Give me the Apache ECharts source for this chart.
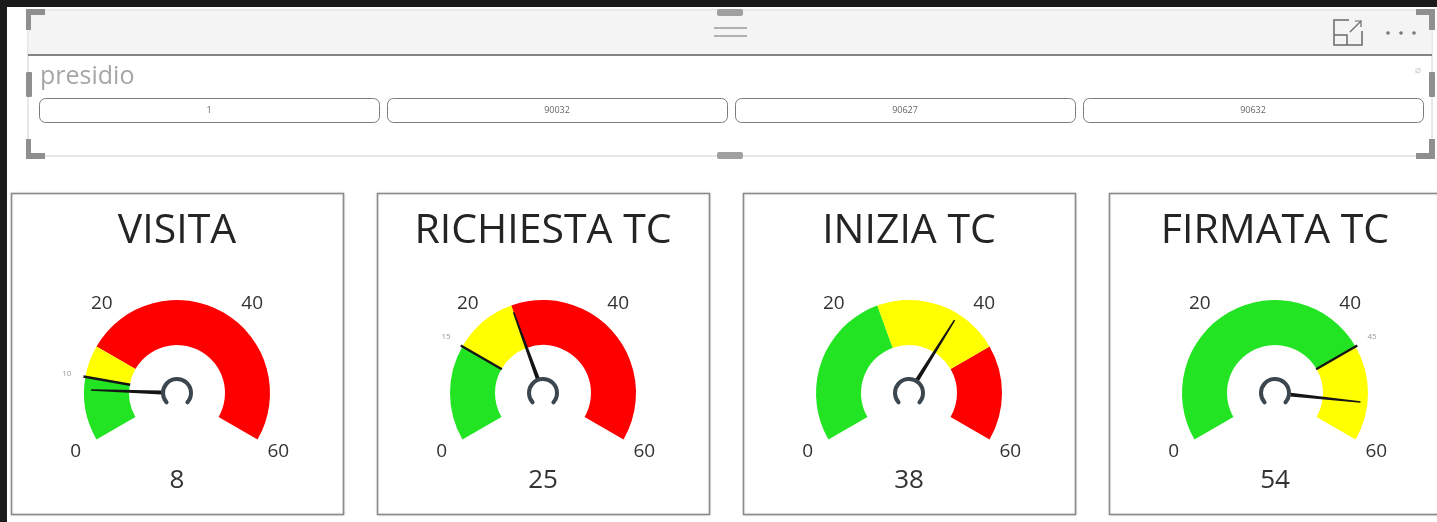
<!DOCTYPE html>
<html>
<head>
<meta charset="utf-8">
<title>presidio</title>
<script src="https://cdn.jsdelivr.net/npm/echarts@6/dist/echarts.min.js"></script>
<style>
  html, body { margin: 0; padding: 0; background: #1b1b1b; }
  #chart { width: 1437px; height: 522px; }
</style>
</head>
<body>
<div id="chart"></div>
<script>
// --- data ---
const gaugeTitles = ['VISITA', 'RICHIESTA TC', 'INIZIA TC', 'FIRMATA TC']
const gaugeValues = [8, 25, 38, 54]
const gaugeTargets = [10, 15, null, 45]
// upper limit of the green and yellow bands, red goes to max
const greenTo = [10, 15, 25, 45]
const yellowTo = [15, 25, 45, 60]
const gaugeMin = 0
const gaugeMax = 60
const gaugeStep = 20

const slicerTitle = 'presidio'
const slicerItems = ['1', '90032', '90627', '90632']

// --- style ---
const FONT = '"Open Sans", "Noto Sans", sans-serif'
const GREEN = '#22e422'
const YELLOW = '#ffff00'
const RED = '#fe0000'

const cardW = 332
const cardH = 321
const cardTop = 193
const cardStep = 366
const cardLeft = i => 11 + i * cardStep
const gaugeY = 393
const outerR = 93

const gcd = (a, b) => b ? gcd(b, a % b) : a

const chart = echarts.init(document.getElementById('chart'), null, { renderer: 'canvas' })

// needle: visible from ~18% of the length out to the tip
const needleIcon = 'path://M0.3 0 L0.7 0 L1 82 L0 82 Z M0 99.9 L0.01 99.9 L0.01 100 L0 100 Z'
// target mark: only across the coloured band
const targetIcon = 'path://M0 0 L1 0 L1 50 L0 50 Z M0 99.9 L0.01 99.9 L0.01 100 L0 100 Z'

const series = []
gaugeValues.forEach((v, i) => {
  const center = [cardLeft(i) + cardW / 2, gaugeY]
  series.push({
    type: 'gauge',
    center,
    radius: outerR,
    startAngle: 210,
    endAngle: -30,
    min: gaugeMin,
    max: gaugeMax,
    splitNumber: (gaugeMax - gaugeMin) / gaugeStep,
    axisLine: {
      lineStyle: {
        width: 45,
        color: [[greenTo[i] / gaugeMax, GREEN], [yellowTo[i] / gaugeMax, YELLOW], [1, RED]]
      }
    },
    axisTick: { show: false },
    splitLine: { show: false, length: 0, distance: 0 },
    axisLabel: { distance: -24, rotate: 0.001, fontSize: 19, color: '#333', fontFamily: FONT },
    pointer: { icon: needleIcon, length: 86, width: 4, itemStyle: { color: '#151515' } },
    anchor: { show: false },
    title: { show: false },
    detail: { offsetCenter: [0, 88], fontSize: 26, fontWeight: 'normal', color: '#333', fontFamily: FONT, formatter: '{value}' },
    data: [{ value: v }]
  })

  const t = gaugeTargets[i]
  if (t != null) {
    series.push({
      type: 'gauge',
      center,
      radius: 95,
      startAngle: 210,
      endAngle: -30,
      min: gaugeMin,
      max: gaugeMax,
      splitNumber: gaugeMax / gcd(gaugeMax, t),
      axisLine: { show: false },
      axisTick: { show: false },
      splitLine: { show: false, length: 0, distance: 0 },
      axisLabel: {
        distance: -17, rotate: 0.001, fontSize: 8, color: '#9a9a9a', fontFamily: FONT,
        formatter: val => Math.abs(val - t) < 1e-6 ? String(t) : ''
      },
      pointer: { icon: targetIcon, length: 95, width: 2.5, itemStyle: { color: '#151515' } },
      anchor: { show: false },
      title: { show: false },
      detail: { show: false },
      data: [{ value: t }]
    })
  }

  // little hub ring
  series.push({
    type: 'gauge',
    center,
    radius: 16,
    startAngle: 222,
    endAngle: -42,
    axisLine: { roundCap: true, lineStyle: { width: 4, color: [[1, '#3b464e']] } },
    axisTick: { show: false },
    splitLine: { show: false },
    axisLabel: { show: false },
    pointer: { show: false },
    anchor: { show: false },
    title: { show: false },
    detail: { show: false },
    data: [{ value: 0 }]
  })
})

// --- static frame (slicer visual + cards) ---
const grey = '#8f8f8f'
const graphics = [
  { type: 'rect', shape: { x: 7, y: 7, width: 1430, height: 515 }, style: { fill: '#ffffff' } },
  // slicer panel
  { type: 'rect', shape: { x: 28, y: 10, width: 1404, height: 146 }, style: { fill: '#fff', stroke: '#d0d0d0', lineWidth: 1 } },
  { type: 'rect', shape: { x: 28.5, y: 10.5, width: 1403, height: 44 }, style: { fill: '#f4f4f4' } },
  { type: 'line', shape: { x1: 28, y1: 55, x2: 1432, y2: 55 }, style: { stroke: '#5c5c5c', lineWidth: 1.5 } },
  // drag handle
  { type: 'line', shape: { x1: 714, y1: 28, x2: 747, y2: 28 }, style: { stroke: '#9a9a9a', lineWidth: 1.5 } },
  { type: 'line', shape: { x1: 714, y1: 36, x2: 747, y2: 36 }, style: { stroke: '#9a9a9a', lineWidth: 1.5 } },
  // focus icon
  { type: 'polyline', shape: { points: [[1349, 20], [1334, 20], [1334, 45], [1362, 45], [1362, 31]] }, style: { stroke: '#6a6a6a', lineWidth: 1.5, fill: null } },
  { type: 'polyline', shape: { points: [[1334, 35], [1347, 35], [1347, 45]] }, style: { stroke: '#6a6a6a', lineWidth: 1.5, fill: null } },
  { type: 'line', shape: { x1: 1350, y1: 32, x2: 1361, y2: 21 }, style: { stroke: '#6a6a6a', lineWidth: 1.2 } },
  { type: 'polyline', shape: { points: [[1355, 21], [1361, 21], [1361, 27]] }, style: { stroke: '#6a6a6a', lineWidth: 1.2, fill: null } },
  // more options
  { type: 'circle', shape: { cx: 1388, cy: 33, r: 1.8 }, style: { fill: '#777' } },
  { type: 'circle', shape: { cx: 1401, cy: 33, r: 1.8 }, style: { fill: '#777' } },
  { type: 'circle', shape: { cx: 1414, cy: 33, r: 1.8 }, style: { fill: '#777' } },
  // resize handles
  { type: 'rect', shape: { x: 26, y: 9, width: 5, height: 21 }, style: { fill: grey } },
  { type: 'rect', shape: { x: 26, y: 9, width: 19, height: 6 }, style: { fill: grey } },
  { type: 'rect', shape: { x: 26, y: 139, width: 5, height: 20 }, style: { fill: grey } },
  { type: 'rect', shape: { x: 26, y: 153, width: 19, height: 6 }, style: { fill: grey } },
  { type: 'rect', shape: { x: 1429, y: 9, width: 6, height: 21 }, style: { fill: grey } },
  { type: 'rect', shape: { x: 1416, y: 9, width: 19, height: 6 }, style: { fill: grey } },
  { type: 'rect', shape: { x: 1429, y: 139, width: 6, height: 20 }, style: { fill: grey } },
  { type: 'rect', shape: { x: 1416, y: 153, width: 19, height: 6 }, style: { fill: grey } },
  { type: 'rect', shape: { x: 26, y: 72, width: 6, height: 25, r: 1 }, style: { fill: grey } },
  { type: 'rect', shape: { x: 1429, y: 72, width: 6, height: 25, r: 1 }, style: { fill: grey } },
  { type: 'rect', shape: { x: 717, y: 9, width: 26, height: 7, r: 2 }, style: { fill: '#a0a0a0' } },
  { type: 'rect', shape: { x: 717, y: 152, width: 26, height: 7, r: 2 }, style: { fill: '#a0a0a0' } },
  // slicer header text
  { type: 'text', x: 40, y: 77, style: { text: slicerTitle, fill: '#a6a6a6', font: '25px ' + FONT, verticalAlign: 'middle' } },
  { type: 'text', x: 1418, y: 70, style: { text: '\u2300', fill: '#c8c8c8', font: '10px ' + FONT, align: 'center', verticalAlign: 'middle' } }
]

slicerItems.forEach((s, i) => {
  const x = 39 + i * 348
  graphics.push({ type: 'rect', shape: { x: x + 0.5, y: 98.5, width: 340, height: 24, r: 6 }, style: { fill: '#fff', stroke: '#7c7c7c', lineWidth: 1 } })
  graphics.push({ type: 'text', x: x + 170, y: 110.5, style: { text: s, fill: '#666', font: '9px ' + FONT, align: 'center', verticalAlign: 'middle' } })
})

gaugeTitles.forEach((t, i) => {
  const x = cardLeft(i)
  graphics.push({ type: 'rect', shape: { x: x + 0.5, y: cardTop + 0.5, width: cardW, height: cardH }, style: { fill: '#fff', stroke: '#8a8a8a', lineWidth: 1.5, shadowBlur: 2, shadowColor: 'rgba(0,0,0,0.15)' } })
  graphics.push({ type: 'text', x: x + cardW / 2, y: 231, style: { text: t, fill: '#252423', font: '400 41px ' + FONT, align: 'center', verticalAlign: 'middle' } })
})

chart.setOption({
  animation: false,
  backgroundColor: 'transparent',
  graphic: { elements: graphics },
  series
})
</script>
</body>
</html>
